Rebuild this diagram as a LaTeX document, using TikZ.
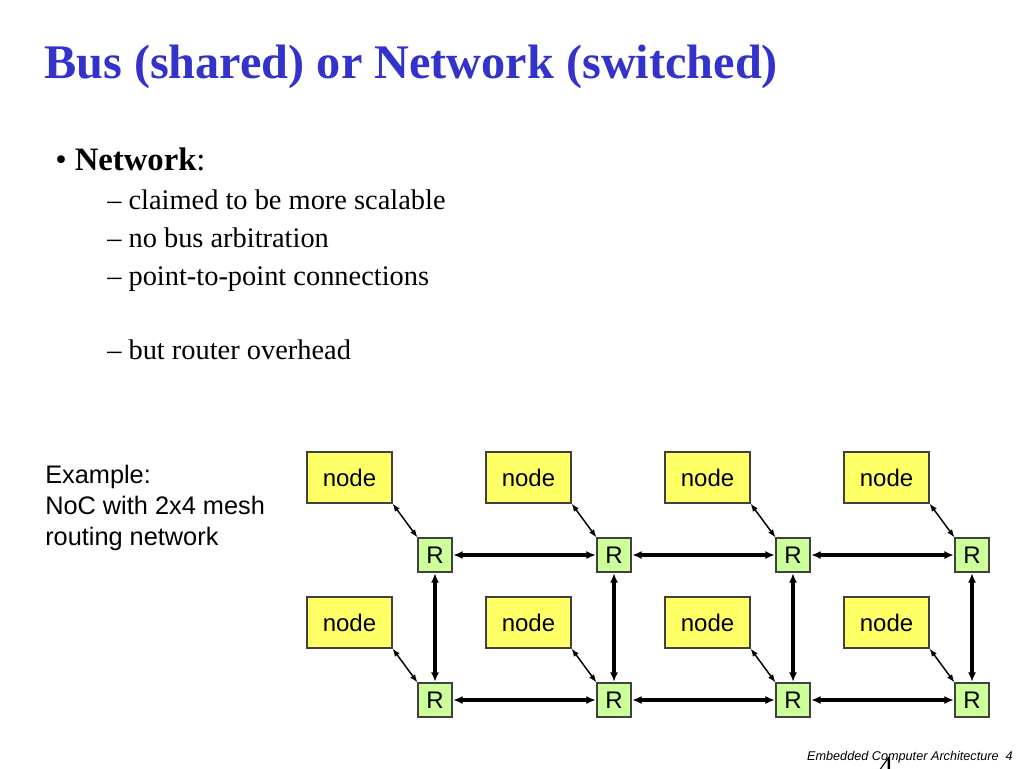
\documentclass[tikz,border=0pt]{standalone}
\usepackage{fontspec}
\setmainfont{Liberation Serif}
\newfontfamily\arialf{Liberation Sans}
\usetikzlibrary{arrows.meta}
\definecolor{titleblue}{HTML}{3333CC}
\definecolor{nodeyellow}{HTML}{FFFF66}
\definecolor{routergreen}{HTML}{CCFF99}
\tikzset{
  pe/.style={draw=black!75, line width=0.8pt, fill=nodeyellow, minimum width=63.75pt, minimum height=38.25pt, inner sep=0pt, font=\arialf\fontsize{18}{20}\selectfont},
  router/.style={draw=black!75, line width=0.8pt, fill=routergreen, minimum width=25.5pt, minimum height=25.5pt, inner sep=0pt, font=\arialf\fontsize{18}{20}\selectfont},
  link/.style={{Latex[length=7pt,width=6pt]}-{Latex[length=7pt,width=6pt]}, line width=2.5pt, shorten <=0.5pt, shorten >=0.5pt},
  attach/.style={{Latex[length=6pt,width=4.5pt]}-{Latex[length=6pt,width=4.5pt]}, line width=1.1pt},
  txt/.style={anchor=base west, inner sep=0pt},
  extxt/.style={anchor=base west, inner sep=0pt, font=\arialf\fontsize{19}{23}\selectfont}
}
\begin{document}
\begin{tikzpicture}[x=0.75pt,y=-0.75pt]
\useasboundingbox[fill=white] (0,0) rectangle (1024,768);
% title
\node[txt, text=titleblue, font=\bfseries\fontsize{36.2}{40}\selectfont] (title) at (44,78) {Bus (shared) or Network (switched)};
% bullets
\node[txt, font=\fontsize{24.5}{28}\selectfont] (b1) at (55,170) {\textbullet\ \textbf{Network}:};
\node[txt, font=\fontsize{21.3}{24}\selectfont] (s1) at (107,209) {\textendash\ claimed to be more scalable};
\node[txt, font=\fontsize{21.3}{24}\selectfont] (s2) at (107,247) {\textendash\ no bus arbitration};
\node[txt, font=\fontsize{21.3}{24}\selectfont] (s3) at (107,285) {\textendash\ point-to-point connections};
\node[txt, font=\fontsize{21.3}{24}\selectfont] (s4) at (107,359) {\textendash\ but router overhead};
% example text
\node[extxt] (ex1) at (45,483) {Example:};
\node[extxt] (ex2) at (45,514) {NoC with 2x4 mesh};
\node[extxt] (ex3) at (45,545) {routing network};
% grid
\foreach \c/\x in {1/0,2/179,3/358,4/537}{
  \node[pe] (n1\c) at (349.5+\x,477.5) {node};
  \node[pe] (n2\c) at (349.5+\x,622.5) {node};
  \node[router] (r1\c) at (435+\x,555) {R};
  \node[router] (r2\c) at (435+\x,700) {R};
  \draw[attach] (n1\c.south east) -- (r1\c.north west);
  \draw[attach] (n2\c.south east) -- (r2\c.north west);
  \draw[link] (r1\c.south) -- (r2\c.north);
}
\foreach \a/\b in {1/2,2/3,3/4}{
  \draw[link] (r1\a.east) -- (r1\b.west);
  \draw[link] (r2\a.east) -- (r2\b.west);
}
% footer
\node[anchor=base east, inner sep=0pt, font=\arialf\itshape\fontsize{9.5}{11}\selectfont] (foot) at (1013,760) {Embedded Computer Architecture\ \ 4};
\node[anchor=base, inner sep=0pt, font=\fontsize{22}{24}\selectfont] (pg) at (886,776) {4};
\end{tikzpicture}
\end{document}
